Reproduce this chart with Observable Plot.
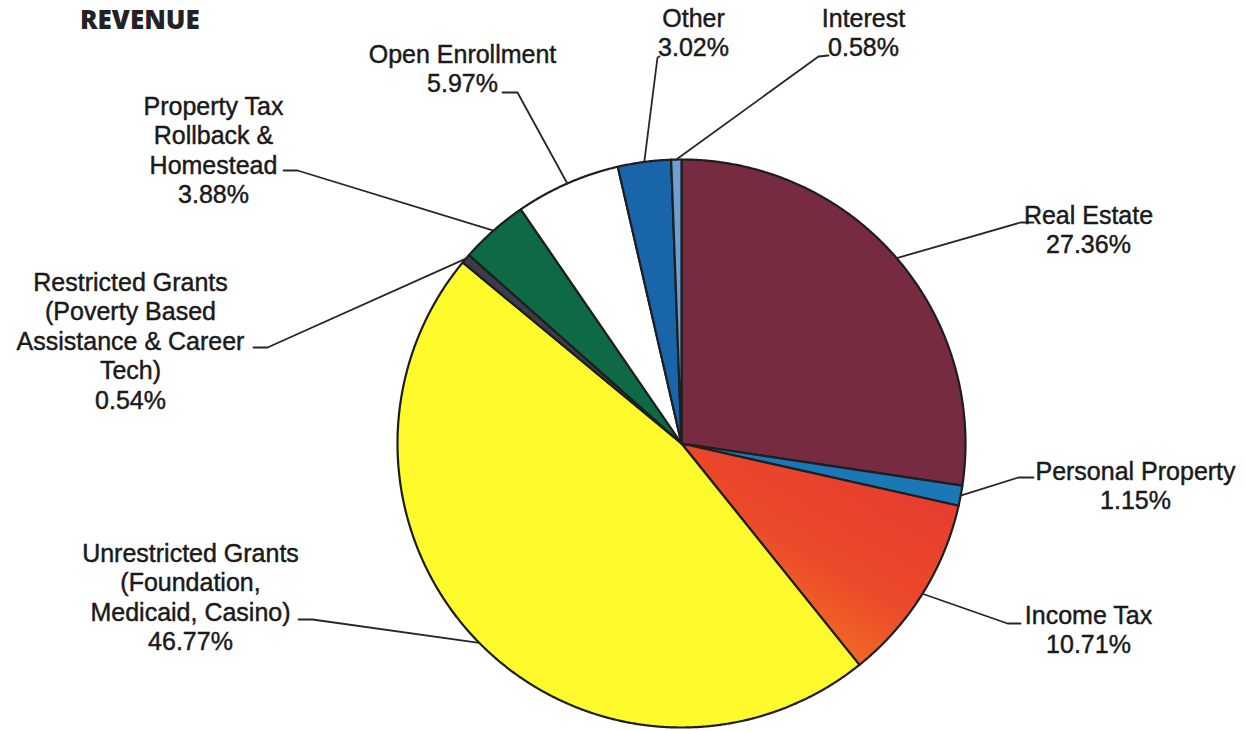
<!DOCTYPE html>
<html><head><meta charset="utf-8">
<script src="https://cdn.jsdelivr.net/npm/d3@7"></script>
<script src="https://cdn.jsdelivr.net/npm/@observablehq/plot@0.6"></script>
<style>
body{margin:0;background:#fff;}
#wrap{position:relative;width:1246px;height:731px;}
#title{position:absolute;left:80px;top:1px;font:800 26px "Open Sans",sans-serif;color:#222;}
</style></head><body>
<div id="wrap"><div id="title">REVENUE</div></div>
<script>
// ---- data ----
const categories = ["Real Estate","Personal Property","Income Tax",
  "Unrestricted Grants (Foundation, Medicaid, Casino)",
  "Restricted Grants (Poverty Based Assistance & Career Tech)",
  "Property Tax Rollback & Homestead","Open Enrollment","Other","Interest"];
const shares = [27.36,1.15,10.71,46.77,0.54,3.88,5.97,3.02,0.58];
const labelLines = [["Real Estate"],["Personal Property"],["Income Tax"],
  ["Unrestricted Grants","(Foundation,","Medicaid, Casino)"],
  ["Restricted Grants","(Poverty Based","Assistance & Career","Tech)"],
  ["Property Tax","Rollback &","Homestead"],["Open Enrollment"],["Other"],["Interest"]];

// ---- styles ----
const colors = ["#772b40","#1b78b6","url(#incomeGrad)","#fefa2c","#3b3b4a","#0d6a45","#ffffff","#1866a9","#6c9fd2"];

// ---- layout (pixels) ----
const pie = {cx:681, cy:443, r:284};
const lineStep = 29.5;
const labelLayout = [
  {x:1088, y:214, stub:[[1033,222],[1020,222]]},
  {x:1135, y:470, stub:[[1033,477],[1018,477]]},
  {x:1088, y:614, stub:[[1020,623],[1007,623]]},
  {x:190,  y:552, stub:[[298,619],[312,619]]},
  {x:130,  y:281, stub:[[253,347],[267,347]]},
  {x:213,  y:105, stub:[[283,170],[297,170]]},
  {x:462,  y:53,  stub:[[502,92],[517,92]]},
  {x:693,  y:17,  stub:[[659,56],[657,57]]},
  {x:863,  y:17,  stub:[[828,55],[818,56]]}
];

const total = d3.sum(shares);
const pt = a => ({x: pie.cx + pie.r*Math.sin(a), y: pie.cy - pie.r*Math.cos(a)});
let cum = 0;
const slices = shares.map((v,i) => {
  const a0 = cum/total*2*Math.PI; cum += v; const a1 = cum/total*2*Math.PI;
  const n = Math.max(2, Math.ceil((a1-a0)/(Math.PI/720)));
  const pts = [{x:pie.cx, y:pie.cy}];
  for (let k=0;k<=n;k++) pts.push(pt(a0 + (a1-a0)*k/n));
  return {name: categories[i], pts, mid: (a0+a1)/2};
});

const leaders = slices.map((s,i) => {
  const L = labelLayout[i];
  return [{x:L.stub[0][0],y:L.stub[0][1]},{x:L.stub[1][0],y:L.stub[1][1]}, pt(s.mid)];
});

const labels = slices.map((s,i) => {
  const lines = [...labelLines[i], shares[i].toFixed(2) + "%"];
  const L = labelLayout[i];
  return {text: lines.join("\n"), x: L.x, y: L.y + (lines.length-1)*lineStep/2};
});

const marks = [];
slices.forEach((s,i) => marks.push(Plot.line(s.pts, {x:"x", y:"y", fill: colors[i], stroke:"#1e1e1e", strokeWidth:2.2, strokeLinejoin:"round", curve:"linear-closed"})));
leaders.forEach(l => marks.push(Plot.line(l, {x:"x", y:"y", stroke:"#262626", strokeWidth:1.8})));
marks.push(Plot.text(labels, {x:"x", y:"y", text:"text", textAnchor:"middle", lineAnchor:"middle",
  lineHeight: lineStep/25, fontSize:25, fontFamily:"'Liberation Sans', Arial, sans-serif",
  fill:"#1a1a1a", stroke:"#1a1a1a", strokeWidth:0.45}));

const chart = Plot.plot({
  width:1246, height:731, margin:0,
  x:{domain:[0,1246], range:[0,1246], axis:null},
  y:{domain:[0,731], range:[0,731], axis:null},
  marks
});
const defs = d3.select(chart).insert("defs", ":first-child");
const g = defs.append("linearGradient").attr("id","incomeGrad")
  .attr("x1","0.95").attr("y1","0.05").attr("x2","0.25").attr("y2","1");
g.append("stop").attr("offset","0%").attr("stop-color","#e5392f");
g.append("stop").attr("offset","55%").attr("stop-color","#eb4a2a");
g.append("stop").attr("offset","100%").attr("stop-color","#f57f21");
document.getElementById("wrap").appendChild(chart);
</script>
</body></html>
